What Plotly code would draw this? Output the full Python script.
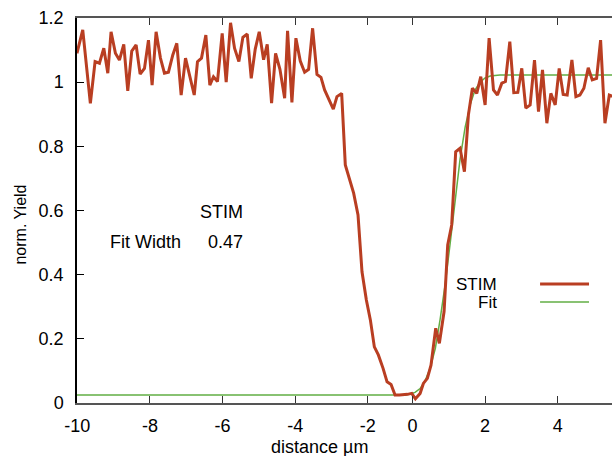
import plotly.graph_objects as go

# STIM profile (distance in µm, normalised yield)
stim_x = [-9.24, -9.08, -8.87, -8.74, -8.62, -8.50, -8.39, -8.30, -8.18, -8.07,
          -7.95, -7.84, -7.73, -7.61, -7.50, -7.38, -7.27, -7.17, -7.06, -6.94,
          -6.83, -6.72, -6.60, -6.49, -6.37, -6.25, -6.01, -5.92, -5.81, -5.69,
          -5.58, -5.48, -5.37, -5.24, -5.13, -5.01, -4.90, -4.78, -4.67, -4.55,
          -4.44, -4.33, -4.22, -4.10, -4.00, -3.88, -3.77, -3.65, -3.52, -3.44,
          -3.32, -3.21, -3.09, -2.97, -2.86, -2.75, -2.63, -2.52, -2.42, -2.30,
          -2.18, -2.08, -1.95, -1.85, -1.73, -1.62, -1.50, -1.39, -1.27, -1.16,
          -1.05, -0.94, -0.81, -0.70, -0.59, -0.48, -0.36, -0.25, -0.14, -0.02,
          0.08, 0.21, 0.30, 0.41, 0.51, 0.64, 0.74, 0.87, 0.97, 1.08,
          1.19, 1.31, 1.43, 1.54, 1.65, 1.77, 1.88, 2.00, 2.11, 2.23,
          2.34, 2.46, 2.56, 2.68, 2.79, 2.90, 3.01, 3.12, 3.24, 3.36,
          3.47, 3.58, 3.70, 3.81, 3.93, 4.04, 4.15, 4.26, 4.39, 4.50,
          4.61, 4.72, 4.84, 4.95, 5.07, 5.18, 5.30, 5.42, 5.54]
stim_y = [1.090, 1.163, 0.934, 1.064, 1.059, 1.106, 1.028, 1.157, 1.090, 1.069,
          1.118, 0.973, 1.097, 1.116, 1.025, 1.043, 1.131, 0.991, 1.157, 1.075,
          1.028, 1.031, 1.085, 1.121, 0.960, 1.075, 0.960, 1.064, 1.075, 1.147,
          0.991, 1.017, 1.002, 1.152, 1.000, 1.185, 1.106, 1.064, 1.140, 1.150,
          1.012, 1.103, 1.157, 1.070, 1.118, 0.935, 1.090, 1.040, 0.950, 1.160,
          0.937, 1.137, 1.066, 1.031, 1.040, 1.168, 1.024, 1.015, 0.976, 0.944,
          0.916, 0.955, 0.965, 0.742, 0.700, 0.654, 0.586, 0.409, 0.321, 0.259,
          0.175, 0.150, 0.108, 0.066, 0.058, 0.025, 0.025, 0.025, 0.027, 0.030,
          0.013, 0.030, 0.061, 0.077, 0.118, 0.233, 0.186, 0.285, 0.493, 0.555,
          0.783, 0.794, 0.721, 0.898, 0.981, 0.965, 1.017, 0.929, 1.137, 0.976,
          0.960, 0.997, 1.002, 1.126, 0.967, 0.968, 1.043, 0.919, 0.929, 1.069,
          0.908, 1.038, 0.872, 0.965, 0.929, 1.043, 0.962, 0.960, 1.069, 0.955,
          0.960, 0.981, 1.045, 1.007, 1.012, 1.131, 0.872, 0.960, 0.955]

# Fitted edge profile
fit_x = [-9.24, -0.47, -0.20, -0.06, 0.07, 0.21, 0.35, 0.49, 0.63, 0.76, 0.90,
         1.04, 1.18, 1.31, 1.45, 1.59, 1.72, 1.86, 2.00, 2.14, 2.41, 5.54]
fit_y = [0.025, 0.025, 0.025, 0.028, 0.033, 0.045, 0.070, 0.110, 0.170, 0.260, 0.370,
         0.500, 0.640, 0.760, 0.860, 0.930, 0.975, 1.000, 1.013, 1.019, 1.022, 1.022]

x_tick_vals = [-9.23, -7.23, -5.23, -3.23, -1.23, 0, 2, 4]
x_tick_text = ["-10", "-8", "-6", "-4", "-2", "0", "2", "4"]
x_range = [-9.238, 5.494]
y_range = [0, 1.2]

fit_width = "0.47"

RED = "#B93E22"
GREEN = "#62AE44"
FONT = "Liberation Sans, Arial, sans-serif"

fig = go.Figure()
fig.add_trace(go.Scatter(x=fit_x, y=fit_y, mode="lines", name="Fit",
                         line=dict(color=GREEN, width=1.5)))
fig.add_trace(go.Scatter(x=stim_x, y=stim_y, mode="lines", name="STIM",
                         line=dict(color=RED, width=3)))

fig.update_layout(
    width=612, height=456,
    margin=dict(l=76.5, r=0, t=18, b=53),
    paper_bgcolor="white", plot_bgcolor="white",
    showlegend=False,
    font=dict(family=FONT, size=18, color="black"),
)
fig.update_xaxes(range=x_range, tickvals=x_tick_vals, ticktext=x_tick_text,
                 showgrid=False, zeroline=False, showline=True, linecolor="#555",
                 linewidth=1.5, mirror="ticks", ticks="inside", ticklen=7,
                 tickcolor="#333", tickwidth=1.2, ticklabelstandoff=6,
                 tickfont=dict(size=18))
fig.update_yaxes(range=y_range, dtick=0.2, tick0=0,
                 showgrid=False, zeroline=False, showline=True, linecolor="#000",
                 linewidth=1.5, mirror=False, ticks="inside", ticklen=7,
                 tickcolor="#000", tickwidth=1.2, ticklabelstandoff=8,
                 tickfont=dict(size=18))

W = 612 - 76.5
H = 385.0
def px(x):
    return (x - 76.5) / W
def py(y):
    return (403 - y) / H

ann = [
    dict(text="distance µm", x=px(319), y=py(447), xanchor="center", yanchor="middle", font=dict(size=18)),
    dict(text="norm. Yield", x=px(19), y=py(225), xanchor="center", yanchor="middle", textangle=-90,
         font=dict(size=16, family="Liberation Sans Narrow, Liberation Sans, Arial, sans-serif")),
    dict(text="STIM", x=px(245), y=py(212), xanchor="right", yanchor="middle"),
    dict(text="Fit Width", x=px(108), y=py(242), xanchor="left", yanchor="middle"),
    dict(text=fit_width, x=px(245), y=py(242), xanchor="right", yanchor="middle"),
    dict(text="STIM", x=px(499), y=py(284), xanchor="right", yanchor="middle", font=dict(size=17)),
    dict(text="Fit", x=px(499), y=py(302), xanchor="right", yanchor="middle", font=dict(size=17)),
]
for a in ann:
    a.update(xref="paper", yref="paper", showarrow=False)
    fig.add_annotation(**a)

fig.add_shape(type="line", xref="paper", yref="paper", x0=px(540), x1=px(589),
              y0=py(284), y1=py(284), line=dict(color=RED, width=3))
fig.add_shape(type="line", xref="paper", yref="paper", x0=px(540), x1=px(589),
              y0=py(302), y1=py(302), line=dict(color=GREEN, width=1.5))

fig.write_html("out.html", config={"displayModeBar": False},
               post_script="document.body.style.margin='0px';document.body.style.overflow='hidden';")
